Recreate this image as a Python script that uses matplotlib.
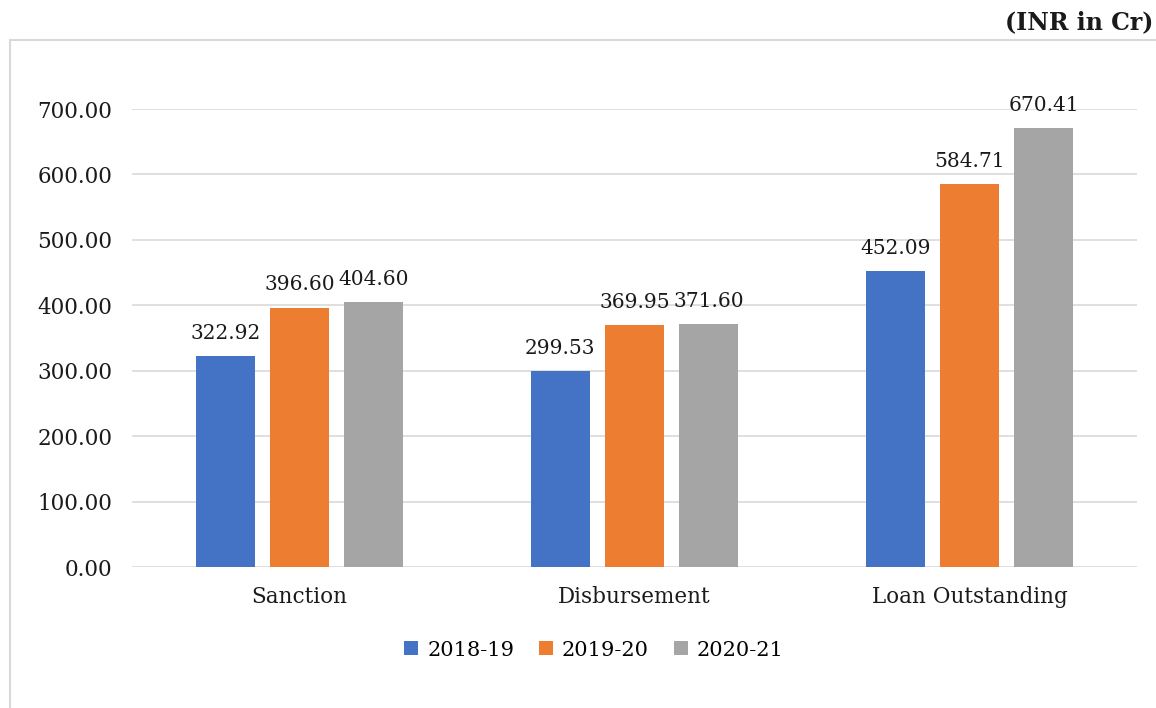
import matplotlib
matplotlib.use("Agg")
import matplotlib.pyplot as plt
import numpy as np
from matplotlib.patches import Rectangle

categories = ["Sanction", "Disbursement", "Loan Outstanding"]
series_names = ["2018-19", "2019-20", "2020-21"]
v2018 = [322.92, 299.53, 452.09]
v2019 = [396.60, 369.95, 584.71]
v2020 = [404.60, 371.60, 670.41]
colors = ["#4472C4", "#ED7D31", "#A5A5A5"]

plt.rcParams['font.family'] = ['DejaVu Serif']

fig = plt.figure(figsize=(11.56, 7.08), dpi=100)
W, H = 1156, 708
ax = fig.add_axes([132/W, 1-567/H, (1137-132)/W, (567-109)/H])

x = np.arange(len(categories))
width = 0.176
offs = [-0.222, 0, 0.222]
for vals, name, c, o in zip([v2018, v2019, v2020], series_names, colors, offs):
    bars = ax.bar(x + o, vals, width, color=c, label=name, zorder=3)
    for b, v in zip(bars, vals):
        ax.text(b.get_x() + b.get_width()/2, v + 20, f"{v:.2f}", ha='center', va='bottom',
                fontsize=14.5, color='#1a1a1a')

ax.set_xlim(-0.5, 2.5)
ax.set_ylim(0, 700)
ax.set_yticks(np.arange(0, 701, 100))
ax.set_yticklabels([f"{t:.2f}" for t in np.arange(0, 701, 100)])
ax.set_xticks(x)
ax.set_xticklabels(categories)
ax.tick_params(axis='both', length=0, labelsize=15.5, colors='#1a1a1a')
ax.tick_params(axis='y', pad=14)
ax.tick_params(axis='x', pad=14)
ax.grid(axis='y', color='#d9d9d9', linewidth=1.2, zorder=0)
for s in ax.spines.values():
    s.set_visible(False)

leg = fig.legend(*ax.get_legend_handles_labels(), loc='center', bbox_to_anchor=(594/W, 1-650/H),
                 ncol=3, frameon=False, fontsize=15, handlelength=0.65, handleheight=0.65,
                 handletextpad=0.45, columnspacing=1.2)

fig.patches.append(Rectangle((10/W, -0.01), 1.02, (1-40/H)+0.01, transform=fig.transFigure,
                             fill=False, edgecolor='#d9d9d9', linewidth=1.5))
fig.text(1153/W, 1-22/H, "(INR in Cr)", ha='right', va='center', fontsize=17,
         fontweight='bold', color='#1a1a1a')

fig.savefig("out.png", dpi=100, facecolor='white')
